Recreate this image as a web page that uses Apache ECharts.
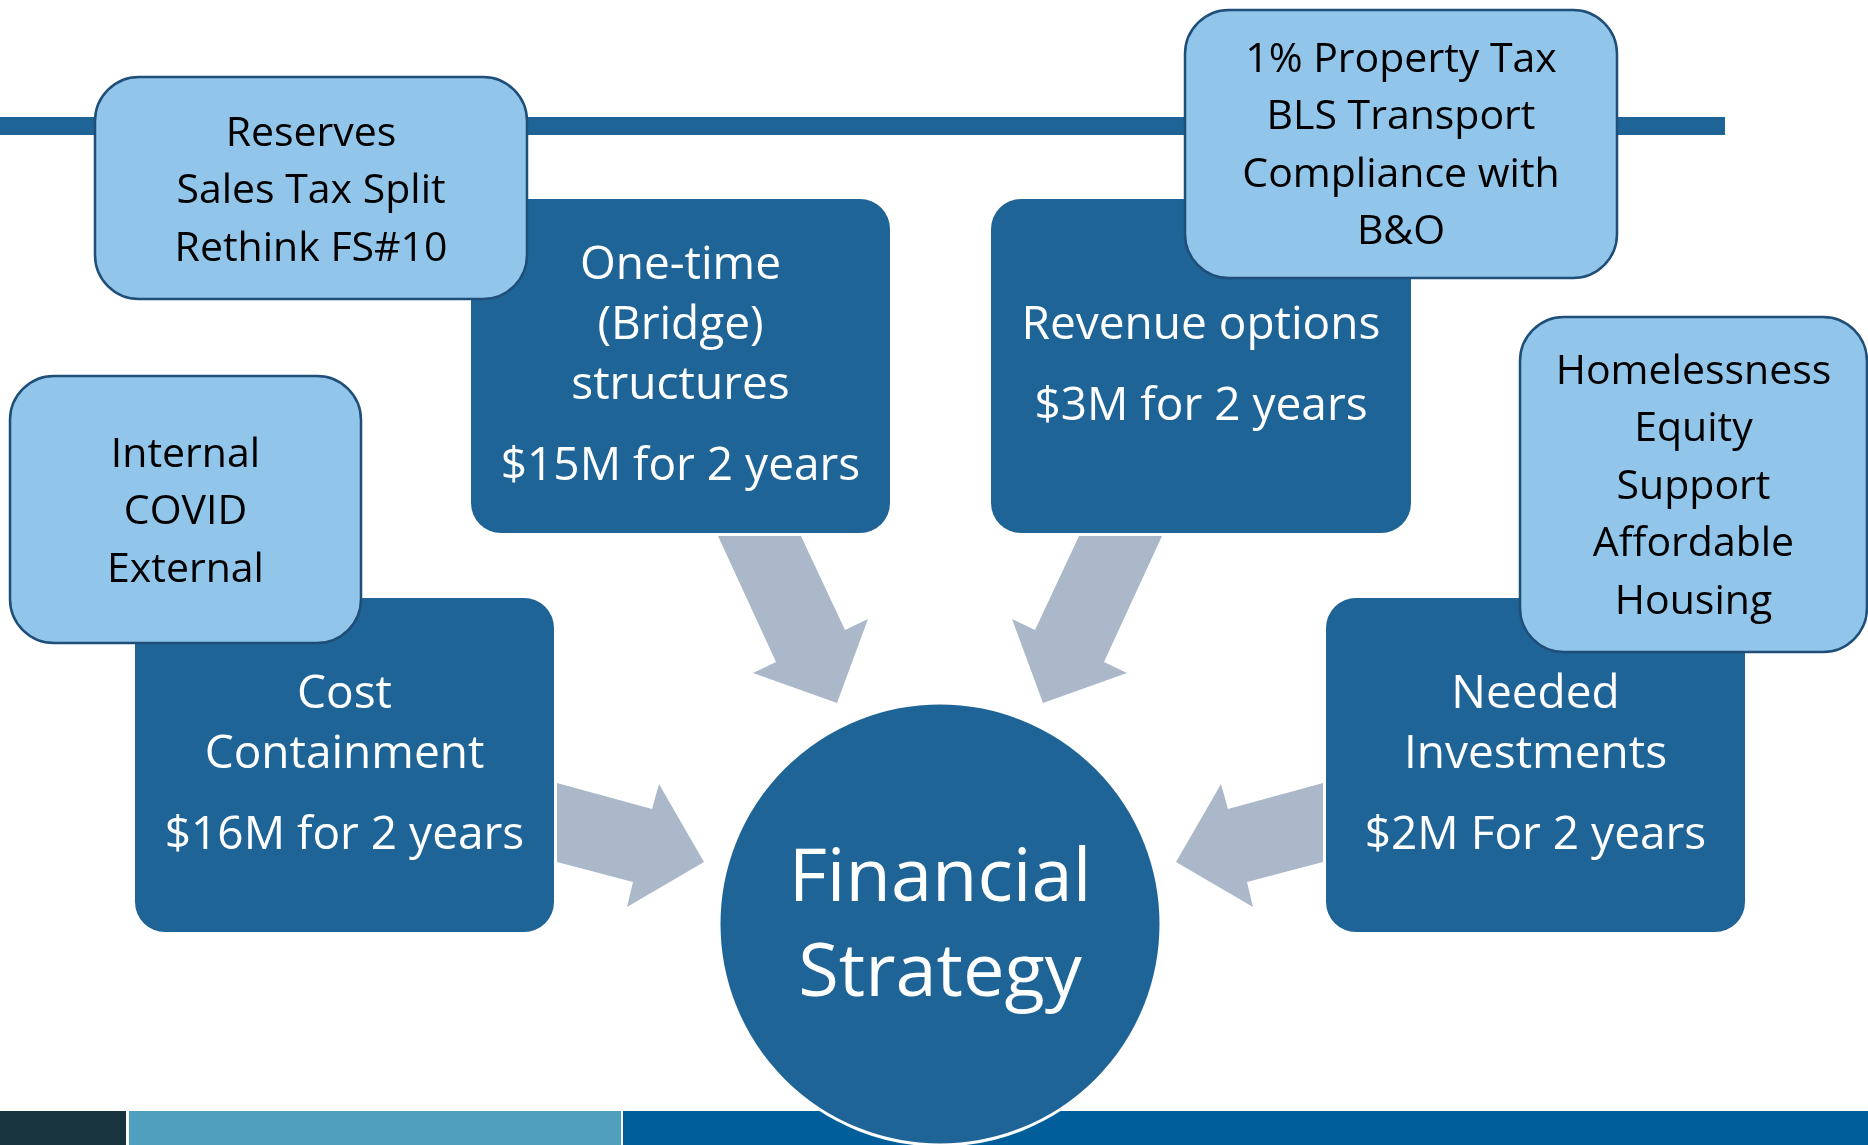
<!DOCTYPE html>
<html>
<head>
<meta charset="utf-8">
<script src="https://cdn.jsdelivr.net/npm/echarts@6/dist/echarts.min.js"></script>
<style>
  html, body { margin: 0; padding: 0; background: #fff; }
  #chart { width: 1868px; height: 1145px; }
</style>
</head>
<body>
<div id="chart"></div>
<script>
// --- content ---
const leverTitles = ['One-time\n(Bridge)\nstructures', 'Revenue options', 'Cost\nContainment', 'Needed\nInvestments']
const leverAmounts = ['$15M for 2 years', '$3M for 2 years', '$16M for 2 years', '$2M For 2 years']
const noteLines = [
  ['Reserves', 'Sales Tax Split', 'Rethink FS#10'],
  ['1% Property Tax', 'BLS Transport', 'Compliance with', 'B&O'],
  ['Internal', 'COVID', 'External'],
  ['Homelessness', 'Equity', 'Support', 'Affordable', 'Housing']
]
const centerTitle = ['Financial', 'Strategy']

// --- layout (page pixels, x0 y0 x1 y1) ---
const leverBoxes = [[471, 199, 890, 533], [991, 199, 1411, 533], [135, 598, 554, 932], [1326, 598, 1745, 932]]
const leverTextTop = [266, 326, 695, 695]
const noteBoxes = [[95, 77, 527, 299], [1185, 10, 1617, 278], [10, 376, 361, 643], [1520, 317, 1867, 652]]
const noteTextTop = [134, 60, 455, 372]
const arrowLeftTop = [[718, 536], [801, 536], [845, 630], [868, 619], [837, 703], [753, 673], [776, 662]]
const arrowLeftMid = [[557, 783], [652, 809], [659, 784], [704, 862], [627, 907], [633, 882], [557, 862]]
const footerParts = [[0, 1111, 126, 1145, '#17343F'], [129, 1111, 621, 1145, '#4F9FBE'], [623, 1111, 1868, 1145, '#005F9A']]

const DARK = '#1F6497'
const LIGHT = '#92C5EA'
const EDGE = '#1F4E79'
const ARROW = '#ABB8CA'
const FONT = '"Open Sans", Lato, sans-serif'

const mirror = pts => pts.map(p => [1880 - p[0], p[1]])
const arrows = [arrowLeftTop, mirror(arrowLeftTop), arrowLeftMid, mirror(arrowLeftMid)]

const chart = echarts.init(document.getElementById('chart'))

const toRect = (api, b) => {
  const p0 = api.coord([b[0], b[1]])
  const p1 = api.coord([b[2], b[3]])
  return { x: p0[0], y: p0[1], width: p1[0] - p0[0], height: p1[1] - p0[1] }
}

// text block whose first line is centred on firstY
const textBlock = (api, lines, x, firstY, lh, size, color) => ({
  type: 'text',
  style: {
    text: lines.join('\n'), x, y: api.coord([0, firstY + (lines.length - 1) * lh / 2])[1],
    align: 'center', verticalAlign: 'middle', lineHeight: lh,
    fill: color, fontSize: size, fontFamily: FONT
  }
})

const layer = (count, z, draw) => ({
  type: 'custom',
  coordinateSystem: 'cartesian2d',
  clip: false,
  silent: true,
  z,
  data: Array.from({ length: count }, (_, i) => [i, 0]),
  renderItem: (params, api) => draw(params.dataIndex, api)
})

const option = {
  animation: false,
  grid: { left: 0, right: 0, top: 0, bottom: 0 },
  xAxis: { type: 'value', min: 0, max: 1868, show: false },
  yAxis: { type: 'value', min: 0, max: 1145, inverse: true, show: false },
  series: [
    // top rule
    layer(1, 1, (i, api) => ({
      type: 'rect', shape: toRect(api, [0, 117, 1725, 135]), style: { fill: DARK }
    })),
    // arrows
    layer(arrows.length, 2, (i, api) => ({
      type: 'polygon',
      shape: { points: arrows[i].map(p => api.coord(p)) },
      style: { fill: ARROW }
    })),
    // lever boxes
    layer(leverTitles.length, 3, (i, api) => {
      const r = toRect(api, leverBoxes[i])
      const cx = r.x + r.width / 2
      const title = leverTitles[i].split('\n')
      const amountY = leverTextTop[i] + (title.length - 1) * 60 + 81
      return {
        type: 'group',
        children: [
          { type: 'rect', shape: Object.assign({ r: 30 }, r), style: { fill: DARK } },
          textBlock(api, title, cx, leverTextTop[i], 60, 46, '#fff'),
          textBlock(api, [leverAmounts[i]], cx, amountY, 60, 46, '#fff')
        ]
      }
    }),
    // note boxes
    layer(noteLines.length, 4, (i, api) => {
      const r = toRect(api, noteBoxes[i])
      return {
        type: 'group',
        children: [
          { type: 'rect', shape: Object.assign({ r: 44 }, r), style: { fill: LIGHT, stroke: EDGE, lineWidth: 2.5 } },
          textBlock(api, noteLines[i], r.x + r.width / 2, noteTextTop[i], 57.5, 41, '#000')
        ]
      }
    }),
    // footer band
    layer(footerParts.length, 5, (i, api) => ({
      type: 'rect', shape: toRect(api, footerParts[i]), style: { fill: footerParts[i][4] }
    })),
    // centre circle
    layer(1, 6, (i, api) => {
      const c = api.coord([940, 924])
      const rad = api.size([221, 0])[0]
      return {
        type: 'group',
        children: [
          { type: 'circle', shape: { cx: c[0], cy: c[1], r: rad }, style: { fill: DARK, stroke: '#fff', lineWidth: 3 } },
          textBlock(api, centerTitle, c[0], 880, 95, 74, '#fff')
        ]
      }
    })
  ]
}

chart.setOption(option)
</script>
</body>
</html>
